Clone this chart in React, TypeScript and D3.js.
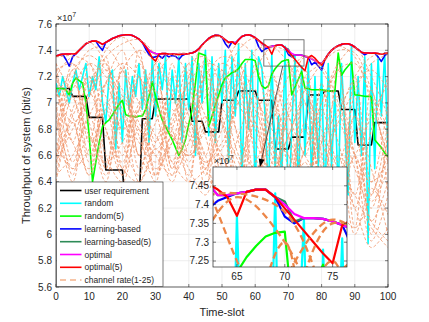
import React from "react";
import * as d3 from "d3";

// time slots 0..100, channel rates sampled every 5 slots
const slots = d3.range(0, 101);
const channelSlots = d3.range(0, 101, 5);

const xTicks = [0, 10, 20, 30, 40, 50, 60, 70, 80, 90, 100];
const yTicks = [5.6, 5.8, 6, 6.2, 6.4, 6.6, 6.8, 7, 7.2, 7.4, 7.6];
const insetXTicks = [65, 70, 75];
const insetYTicks = [7.25, 7.3, 7.35, 7.4, 7.45];

// values in units of 1e7 bit/s
const userRequirement = [
  7.11, 7.11, 7.11, 7.11, 7.11, 7.05, 7.05, 7.05, 7.05, 7.05,
  6.89, 6.89, 6.89, 6.89, 6.89, 6.49, 6.49, 6.49, 6.49, 6.49,
  6.49, 6.2, 6.2, 6.2, 6.2, 6.2, 6.88, 6.88, 6.88, 6.88,
  7.03, 7.03, 7.03, 7.03, 7.03, 7.03, 7.03, 7.03, 7.03, 7.03,
  7.03, 6.86, 6.86, 6.86, 6.86, 6.78, 6.78, 6.78, 6.78, 6.78,
  7.02, 7.02, 7.02, 7.02, 7.02, 7.09, 7.09, 7.09, 7.09, 7.09,
  7.09, 7.02, 7.02, 7.02, 7.02, 7.02, 6.65, 6.65, 6.65, 6.65,
  6.65, 6.74, 6.74, 6.74, 6.74, 6.74, 7.06, 7.06, 7.06, 7.06,
  7.06, 7.09, 7.09, 7.09, 7.09, 7.09, 6.95, 6.95, 6.95, 6.95,
  6.95, 6.68, 6.68, 6.68, 6.68, 6.68, 6.85, 6.85, 6.85, 6.85, 6.85,
];

const randomRate = [
  7.15, 7.05, 7.2, 7.1, 7.0, 7.15, 7.25, 7.1, 7.2, 7.3,
  7.05, 7.2, 7.1, 7.35, 7.0, 6.85, 7.2, 7.25, 6.65, 7.15,
  6.7, 7.25, 6.95, 7.2, 7.05, 7.3, 6.95, 7.25, 6.7, 7.35,
  6.9, 7.3, 7.1, 7.35, 6.8, 7.25, 7.0, 7.35, 6.7, 7.3,
  6.95, 7.35, 6.6, 7.3, 7.0, 7.4, 6.75, 7.35, 6.7, 7.3,
  7.0, 7.4, 6.55, 7.35, 6.9, 7.45, 6.4, 7.3, 6.8, 7.4,
  6.3, 7.35, 7.27, 6.9, 6.3, 7.37, 6.5, 6.9, 6.4, 7.43,
  6.1, 6.8, 7.36, 6.3, 7.28, 6.6, 7.31, 6.4, 7.2, 6.5,
  7.28, 6.2, 7.3, 6.5, 7.1, 6.3, 7.3, 6.8, 6.3, 7.44,
  6.7, 7.2, 6.6, 7.35, 5.93, 7.3, 6.5, 7.35, 6.9, 7.38, 6.6,
];

const random5Rate = [
  7.11, 7.11, 7.11, 7.1, 7.06, 7.15, 7.19, 7.17, 7.15, 7.0,
  6.75, 6.4, 6.55, 6.7, 6.82, 6.85, 6.87, 6.91, 6.95, 6.99,
  7.02, 6.91, 6.9, 6.9, 6.89, 6.9, 6.9, 6.95, 7.05, 7.16,
  7.05, 6.95, 6.87, 6.82, 6.77, 6.72, 6.66, 6.6, 6.65, 6.72,
  6.84, 6.95, 7.15, 7.38, 7.37, 7.36, 6.82, 6.9, 6.98, 7.06,
  7.14, 7.19, 7.21, 7.23, 7.24, 7.26, 7.3, 7.33, 7.33, 7.33,
  7.32, 7.2, 7.13, 7.11, 7.13, 7.22, 7.26, 7.29, 7.315, 7.325,
  7.328, 7.06, 7.12, 7.18, 7.24, 7.11, 7.11, 7.1, 7.1, 7.1,
  7.1, 7.095, 7.09, 7.09, 7.09, 7.38, 7.21, 7.25, 7.28, 7.31,
  7.06, 7.06, 7.055, 7.05, 7.05, 7.05, 6.72, 6.69, 6.66, 6.62, 6.59,
];

const learningRate = [
  7.355, 7.365, 7.37, 7.33, 7.28, 7.35, 7.375, 7.4, 7.425, 7.45,
  7.462, 7.47, 7.47, 7.43, 7.4, 7.46, 7.475, 7.49, 7.5, 7.51,
  7.515, 7.518, 7.518, 7.512, 7.5, 7.485, 7.46, 7.41, 7.37, 7.345,
  7.35, 7.36, 7.34, 7.365, 7.35, 7.36, 7.355, 7.33, 7.36, 7.372,
  7.375, 7.38, 7.39, 7.41, 7.44, 7.465, 7.49, 7.505, 7.515, 7.512,
  7.5, 7.45, 7.42, 7.465, 7.455, 7.48, 7.505, 7.515, 7.518, 7.51,
  7.495, 7.43, 7.39, 7.41, 7.42, 7.43, 7.434, 7.44, 7.44, 7.42,
  7.368, 7.35, 7.364, 7.364, 7.362, 7.355, 7.346, 7.29, 7.31, 7.28,
  7.25, 7.33, 7.37, 7.4, 7.42, 7.435, 7.445, 7.45, 7.45, 7.44,
  7.425, 7.405, 7.385, 7.365, 7.38, 7.378, 7.38, 7.35, 7.315, 7.36, 7.38,
];

const learning5Rate = [
  7.355, 7.365, 7.37, 7.372, 7.372, 7.373, 7.375, 7.4, 7.425, 7.45,
  7.462, 7.47, 7.47, 7.46, 7.445, 7.46, 7.475, 7.49, 7.5, 7.51,
  7.515, 7.518, 7.518, 7.512, 7.5, 7.485, 7.46, 7.43, 7.4, 7.385,
  7.375, 7.372, 7.375, 7.375, 7.37, 7.372, 7.37, 7.368, 7.37, 7.372,
  7.375, 7.38, 7.39, 7.41, 7.44, 7.465, 7.49, 7.505, 7.515, 7.512,
  7.5, 7.48, 7.46, 7.465, 7.455, 7.48, 7.505, 7.515, 7.518, 7.51,
  7.495, 7.475, 7.455, 7.425, 7.425, 7.43, 7.434, 7.44, 7.44, 7.42,
  7.408, 7.355, 7.364, 7.364, 7.362, 7.355, 7.346, 7.335, 7.32, 7.305,
  7.3, 7.33, 7.37, 7.4, 7.42, 7.435, 7.445, 7.45, 7.45, 7.44,
  7.425, 7.405, 7.385, 7.38, 7.38, 7.378, 7.38, 7.375, 7.37, 7.375, 7.38,
];

const optimalRate = [
  7.355, 7.365, 7.37, 7.372, 7.372, 7.373, 7.375, 7.4, 7.425, 7.45,
  7.462, 7.47, 7.47, 7.46, 7.445, 7.46, 7.475, 7.49, 7.5, 7.51,
  7.515, 7.518, 7.518, 7.512, 7.5, 7.485, 7.46, 7.43, 7.4, 7.385,
  7.375, 7.372, 7.375, 7.375, 7.37, 7.372, 7.37, 7.368, 7.37, 7.372,
  7.375, 7.38, 7.39, 7.41, 7.44, 7.465, 7.49, 7.505, 7.515, 7.512,
  7.5, 7.48, 7.46, 7.465, 7.455, 7.48, 7.505, 7.515, 7.518, 7.51,
  7.495, 7.475, 7.455, 7.425, 7.425, 7.43, 7.434, 7.44, 7.44, 7.42,
  7.4, 7.375, 7.364, 7.364, 7.362, 7.355, 7.346, 7.335, 7.32, 7.305,
  7.3, 7.33, 7.37, 7.4, 7.42, 7.435, 7.445, 7.45, 7.45, 7.44,
  7.425, 7.405, 7.385, 7.38, 7.38, 7.378, 7.38, 7.375, 7.37, 7.375, 7.38,
];

const optimal5Rate = [
  7.355, 7.365, 7.37, 7.372, 7.372, 7.373, 7.375, 7.4, 7.425, 7.45,
  7.462, 7.47, 7.47, 7.46, 7.445, 7.46, 7.475, 7.49, 7.5, 7.51,
  7.515, 7.518, 7.518, 7.512, 7.5, 7.485, 7.46, 7.43, 7.39, 7.34,
  7.318, 7.37, 7.375, 7.375, 7.37, 7.372, 7.37, 7.368, 7.37, 7.372,
  7.375, 7.38, 7.39, 7.41, 7.44, 7.465, 7.49, 7.505, 7.515, 7.512,
  7.5, 7.48, 7.46, 7.465, 7.445, 7.48, 7.505, 7.515, 7.518, 7.51,
  7.495, 7.475, 7.455, 7.44, 7.42, 7.37, 7.434, 7.44, 7.44, 7.42,
  7.39, 7.36, 7.33, 7.3, 7.27, 7.244, 7.345, 7.36, 7.34, 7.31,
  7.285, 7.33, 7.37, 7.4, 7.42, 7.435, 7.445, 7.45, 7.45, 7.44,
  7.425, 7.405, 7.385, 7.38, 7.38, 7.378, 7.38, 7.375, 7.37, 7.375, 7.38,
];

// 25 channel rates, one value every 5 slots
const channelRates = [
  [7.35, 7.37, 7.46, 7.3, 6.95, 6.7, 6.55, 6.7, 6.95, 7.2, 7.35, 7.3, 7.05, 6.8, 6.6, 6.5, 6.7, 6.95, 7.15, 7.25, 7.1],
  [7.1, 6.85, 7.05, 7.4, 7.5, 7.35, 7.0, 6.75, 6.6, 6.8, 7.1, 7.4, 7.49, 7.25, 6.9, 6.6, 6.4, 6.2, 6.05, 6.3, 6.6],
  [6.8, 7.1, 7.3, 7.2, 6.9, 6.6, 6.45, 6.8, 7.2, 7.46, 7.5, 7.2, 6.85, 6.55, 6.4, 6.65, 7.0, 7.3, 7.42, 7.2, 6.9],
  [7.25, 7.3, 7.1, 6.8, 6.5, 6.4, 6.7, 7.05, 7.3, 7.35, 7.1, 6.75, 6.5, 6.7, 7.05, 7.35, 7.28, 7.0, 6.6, 6.1, 5.95],
  [6.6, 6.9, 7.15, 7.35, 7.45, 7.48, 7.36, 7.1, 6.8, 6.5, 6.2, 6.0, 6.2, 6.55, 6.9, 7.2, 7.3, 7.4, 7.38, 7.1, 6.8],
  [7.3, 7.05, 6.75, 6.55, 6.7, 7.0, 7.3, 7.37, 7.2, 6.9, 6.6, 6.4, 6.55, 6.85, 7.2, 7.36, 7.25, 6.95, 6.6, 6.4, 6.55],
  [6.95, 7.2, 7.4, 7.42, 7.25, 7.0, 6.75, 6.55, 6.4, 6.5, 6.8, 7.15, 7.4, 7.43, 7.38, 7.1, 6.8, 6.5, 6.3, 6.05, 5.9],
  [6.45, 6.6, 6.9, 7.15, 7.3, 7.2, 7.0, 6.75, 6.6, 6.85, 7.2, 7.45, 7.35, 7.05, 6.75, 6.5, 6.6, 6.9, 7.2, 7.35, 7.38],
  [7.2, 7.35, 7.3, 7.05, 6.8, 6.95, 7.2, 7.36, 7.37, 7.15, 6.85, 6.55, 6.3, 6.1, 6.3, 6.65, 7.0, 7.25, 7.3, 7.05, 6.75],
  [6.7, 6.5, 6.65, 6.95, 7.25, 7.4, 7.3, 7.05, 6.75, 6.55, 6.7, 7.0, 7.25, 7.42, 7.3, 7.0, 6.7, 6.45, 6.6, 6.9, 7.15],
  [7.05, 7.25, 7.36, 7.25, 7.05, 6.8, 6.6, 6.45, 6.7, 7.05, 7.3, 7.2, 6.95, 6.65, 6.45, 6.3, 6.5, 6.85, 7.1, 7.3, 7.37],
  [6.55, 6.8, 7.05, 7.25, 7.1, 6.85, 6.6, 6.9, 7.15, 7.3, 7.25, 7.0, 6.7, 6.5, 6.75, 7.1, 7.3, 7.43, 7.35, 7.0, 6.6],
  [7.3, 6.7, 7.2, 6.5, 7.25, 6.6, 7.3, 6.55, 7.1, 6.45, 7.2, 6.3, 7.0, 6.2, 6.9, 6.1, 7.15, 6.3, 7.05, 6.0, 6.8],
  [6.6, 7.25, 6.7, 7.35, 6.5, 7.2, 6.45, 7.3, 6.6, 7.35, 6.4, 7.25, 6.2, 7.1, 6.3, 7.2, 6.25, 7.3, 6.05, 7.1, 6.3],
  [7.0, 6.45, 7.3, 6.8, 6.45, 7.4, 6.7, 6.95, 6.4, 7.2, 6.85, 6.3, 7.3, 6.7, 6.2, 7.1, 6.6, 6.0, 7.2, 6.4, 7.0],
  [6.5, 7.05, 6.55, 7.15, 7.4, 6.6, 7.1, 6.5, 7.25, 6.75, 6.35, 7.15, 6.45, 6.9, 7.3, 6.35, 6.9, 7.25, 6.2, 6.8, 7.2],
  [7.2, 6.9, 6.45, 7.0, 6.6, 7.3, 6.95, 6.45, 7.0, 6.6, 7.25, 6.7, 6.25, 7.2, 6.75, 6.15, 6.95, 6.55, 6.9, 6.3, 6.85],
  [6.9, 6.4, 7.1, 7.3, 6.7, 6.45, 7.15, 6.8, 6.45, 7.25, 6.9, 6.5, 7.1, 6.4, 6.95, 7.25, 6.5, 6.2, 6.8, 6.1, 6.4],
  [6.55, 7.15, 6.85, 6.4, 7.05, 6.75, 6.4, 7.2, 6.9, 6.5, 6.95, 7.3, 6.6, 6.3, 7.0, 6.6, 7.1, 6.7, 6.3, 6.95, 6.55],
  [7.1, 6.7, 6.5, 7.15, 6.8, 7.2, 6.65, 6.85, 7.3, 6.55, 6.65, 7.0, 6.8, 6.45, 6.75, 7.0, 6.4, 6.85, 6.5, 6.2, 6.75],
  [6.45, 6.95, 7.2, 6.6, 6.4, 6.95, 7.25, 6.5, 6.8, 7.1, 6.5, 6.25, 6.9, 7.1, 6.5, 6.2, 6.7, 7.05, 6.6, 5.95, 6.3],
  [7.25, 6.55, 6.9, 6.5, 7.3, 6.5, 6.85, 7.05, 6.55, 6.9, 6.3, 6.75, 7.05, 6.6, 6.35, 6.85, 6.45, 6.3, 6.9, 6.5, 6.0],
  [6.75, 7.3, 6.6, 6.95, 6.45, 6.8, 6.5, 6.7, 7.15, 6.35, 6.95, 6.6, 6.3, 6.95, 6.6, 6.4, 6.75, 6.15, 6.6, 6.25, 6.5],
  [6.95, 6.5, 6.75, 6.45, 6.9, 6.4, 6.65, 6.4, 6.85, 6.6, 6.15, 6.5, 6.85, 6.1, 6.5, 6.8, 6.3, 6.6, 6.0, 6.35, 6.15],
  [6.4, 6.85, 6.45, 6.75, 6.55, 6.95, 6.45, 6.75, 6.5, 6.3, 6.6, 6.05, 6.4, 6.7, 6.25, 6.55, 6.1, 6.45, 6.2, 5.9, 6.05],
];

const seriesList = [
  { name: "user requirement", values: userRequirement, color: "#000000" },
  { name: "random", values: randomRate, color: "#00FFFF" },
  { name: "random(5)", values: random5Rate, color: "#00FF00" },
  { name: "learning-based", values: learningRate, color: "#0000FF" },
  { name: "learning-based(5)", values: learning5Rate, color: "#2E8B57" },
  { name: "optimal", values: optimalRate, color: "#FF00FF" },
  { name: "optimal(5)", values: optimal5Rate, color: "#FF0000" },
];

const FONT = "Liberation Sans, Arial, Helvetica, sans-serif";
const AXIS = "#262626";
const GRID = "#e3e3e3";

const W = 429;
const H = 322;

const xMain = d3.scaleLinear().domain([0, 100]).range([56, 388]);
const yMain = d3.scaleLinear().domain([5.6, 7.6]).range([287, 24]);
const xIn = d3.scaleLinear().domain([62.5, 76.5]).range([213, 347]);
const yIn = d3.scaleLinear().domain([7.234, 7.5]).range([267, 167]);

function Series({ x, y, width, chWidth, chColor, dash }) {
  const line = d3
    .line<number>()
    .x((_, i) => x(slots[i]))
    .y((d) => y(d));
  const chLine = d3
    .line<number>()
    .x((_, i) => x(channelSlots[i]))
    .y((d) => y(d))
    .curve(d3.curveCatmullRom.alpha(0.5));
  return (
    <g>
      {seriesList.map((s) => (
        <path key={s.name} d={line(s.values) || ""} fill="none" stroke={s.color}
          strokeWidth={width} strokeLinejoin="round" />
      ))}
      {channelRates.map((c, i) => (
        <path key={i} d={chLine(c) || ""} fill="none" stroke={chColor} strokeWidth={chWidth}
          strokeDasharray={dash} />
      ))}
    </g>
  );
}

function Grid({ x, y, xt, yt }) {
  const [x0, x1] = x.range();
  const [y0, y1] = y.range();
  return (
    <g>
      {xt.map((t) => (
        <line key={"gx" + t} x1={x(t)} x2={x(t)} y1={y0} y2={y1} stroke={GRID} strokeWidth={0.6} />
      ))}
      {yt.map((t) => (
        <line key={"gy" + t} x1={x0} x2={x1} y1={y(t)} y2={y(t)} stroke={GRID} strokeWidth={0.6} />
      ))}
    </g>
  );
}

function Axes({ x, y, xt, yt, fmtY, tick }) {
  const [x0, x1] = x.range();
  const [y0, y1] = y.range();
  return (
    <g fontFamily={FONT} fontSize={10} fill={AXIS}>
      <rect x={x0} y={y1} width={x1 - x0} height={y0 - y1} fill="none" stroke={AXIS} strokeWidth={0.7} />
      {xt.map((t) => (
        <g key={"tx" + t}>
          <line x1={x(t)} x2={x(t)} y1={y0} y2={y0 - tick} stroke={AXIS} strokeWidth={0.6} />
          <line x1={x(t)} x2={x(t)} y1={y1} y2={y1 + tick} stroke={AXIS} strokeWidth={0.6} />
          <text x={x(t)} y={y0 + 13} textAnchor="middle">{t}</text>
        </g>
      ))}
      {yt.map((t) => (
        <g key={"ty" + t}>
          <line x1={x0} x2={x0 + tick} y1={y(t)} y2={y(t)} stroke={AXIS} strokeWidth={0.6} />
          <line x1={x1} x2={x1 - tick} y1={y(t)} y2={y(t)} stroke={AXIS} strokeWidth={0.6} />
          <text x={x0 - 4} y={y(t) + 3.5} textAnchor="end">{fmtY(t)}</text>
        </g>
      ))}
      <text x={x0 + 1} y={y1 - 3} fontSize={9}>
        ×10<tspan fontSize={7} dy={-4}>7</tspan>
      </text>
    </g>
  );
}

function Legend() {
  const lx = 56.5, ly = 182, lw = 106.5, lh = 104.5;
  const rowY = (i) => 190.5 + i * 12.8;
  return (
    <g fontFamily={FONT} fontSize={8.5} fill={AXIS}>
      <rect x={lx} y={ly} width={lw} height={lh} fill="#fff" stroke={AXIS} strokeWidth={0.6} />
      {seriesList.map((s, i) => (
        <g key={s.name}>
          <line x1={60} x2={81.5} y1={rowY(i)} y2={rowY(i)} stroke={s.color} strokeWidth={1.6} />
          <text x={84.5} y={rowY(i) + 3}>{s.name}</text>
        </g>
      ))}
      <line x1={60} x2={81.5} y1={rowY(7)} y2={rowY(7)} stroke="#F7C6A8" strokeWidth={2}
        strokeDasharray="6 4" />
      <text x={84.5} y={rowY(7) + 3}>channel rate(1-25)</text>
    </g>
  );
}

export default function App() {
  const fmtMain = (v) => String(+v.toFixed(1));
  const fmtIn = (v) => String(+v.toFixed(2));

  // zoom box and arrow (data coordinates)
  const box = { t0: 62.6, t1: 74.7, v0: 7.28, v1: 7.48 };
  const ax1 = xMain(68.3), ay1 = yMain(7.28);
  const ax2 = xIn(67.4), ay2 = yIn(7.5);
  const ang = Math.atan2(ay2 - ay1, ax2 - ax1);
  const hl = 8, hw = 3;
  const bx = ax2 - hl * Math.cos(ang), by = ay2 - hl * Math.sin(ang);
  const head = [
    [ax2, ay2],
    [bx + hw * Math.sin(ang), by - hw * Math.cos(ang)],
    [bx - hw * Math.sin(ang), by + hw * Math.cos(ang)],
  ];

  return (
    <div style={{ position: "fixed", left: 0, top: 0 }}>
      <svg width={W} height={H} style={{ display: "block", background: "#fff" }}>
        <defs>
          <clipPath id="mainClip">
            <rect x={56} y={24} width={332} height={263} />
          </clipPath>
          <clipPath id="insetClip">
            <rect x={213} y={167} width={134} height={100} />
          </clipPath>
        </defs>
        <rect x={0} y={0} width={W} height={H} fill="#fff" />

        <Grid x={xMain} y={yMain} xt={xTicks} yt={yTicks} />
        <g clipPath="url(#mainClip)">
          <Series x={xMain} y={yMain} width={1.6} chWidth={0.8} chColor="#F0946A" dash="3 2" />
        </g>
        <Axes x={xMain} y={yMain} xt={xTicks} yt={yTicks} fmtY={fmtMain} tick={3} />

        <rect x={xMain(box.t0)} y={yMain(box.v1)} width={xMain(box.t1) - xMain(box.t0)}
          height={yMain(box.v0) - yMain(box.v1)} fill="none" stroke="#555" strokeWidth={0.8} />

        <text x={222} y={316} textAnchor="middle" fontFamily={FONT} fontSize={11} fill={AXIS}>
          Time-slot
        </text>
        <text transform="translate(30,155.5) rotate(-90)" textAnchor="middle" fontFamily={FONT}
          fontSize={11} fill={AXIS}>
          Throughput of system (bit/s)
        </text>

        <Legend />

        {/* inset */}
        <rect x={213} y={167} width={134} height={100} fill="#fff" />
        <Grid x={xIn} y={yIn} xt={insetXTicks} yt={insetYTicks} />
        <g clipPath="url(#insetClip)">
          <Series x={xIn} y={yIn} width={2.2} chWidth={2.3} chColor="#EC8648" dash="7 4" />
        </g>
        <Axes x={xIn} y={yIn} xt={insetXTicks} yt={insetYTicks} fmtY={fmtIn} tick={3} />

        <line x1={ax1} y1={ay1} x2={bx} y2={by} stroke="#333" strokeWidth={0.8} />
        <polygon points={head.map((p) => p.join(",")).join(" ")} fill="#000" />
      </svg>
    </div>
  );
}
